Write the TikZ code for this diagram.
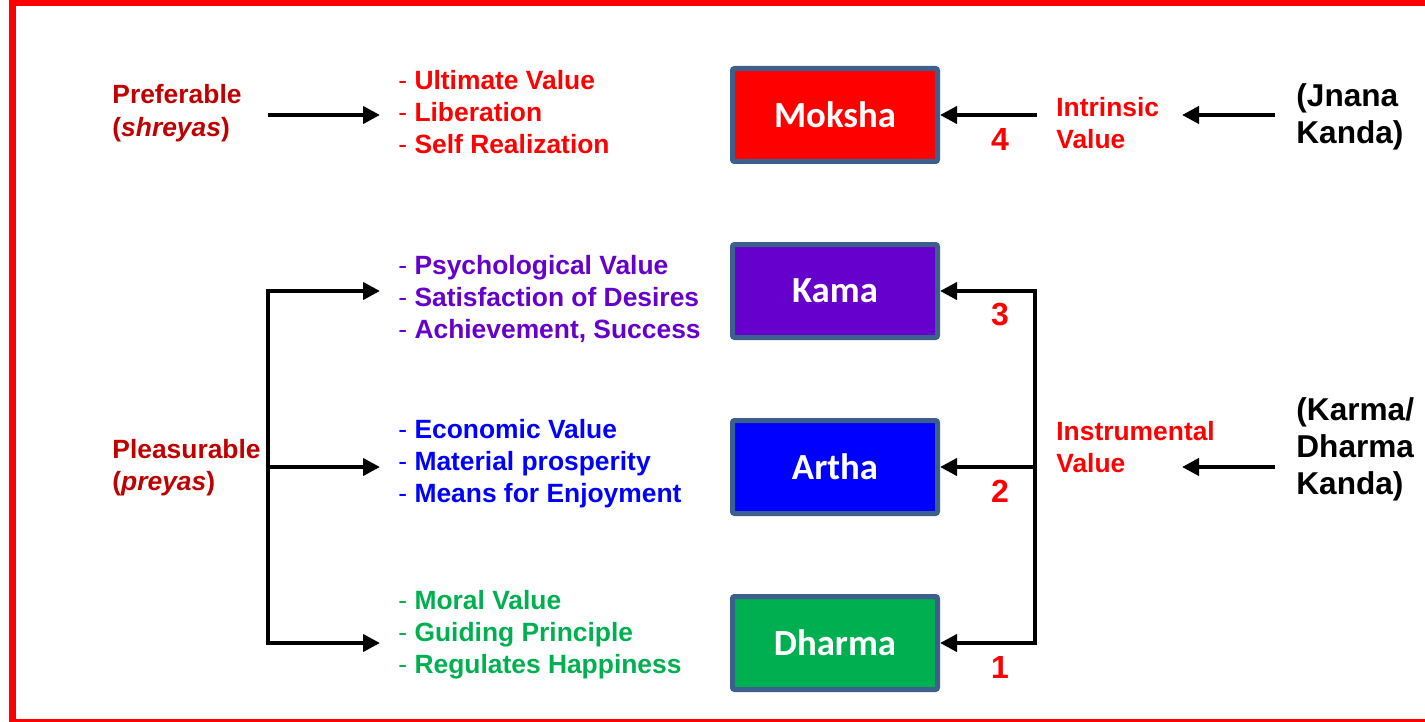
\documentclass[tikz,border=0pt]{standalone}
\usepackage{fontspec}
\setmainfont{Liberation Sans}
\newfontfamily\boxfont{Carlito}
\usetikzlibrary{arrows.meta}

\definecolor{frameRed}{HTML}{FF0000}
\definecolor{darkRed}{HTML}{C00000}
\definecolor{kamaPurple}{HTML}{6600CC}
\definecolor{arthaBlue}{HTML}{0000FF}
\definecolor{dharmaGreen}{HTML}{00B050}
\definecolor{boxEdge}{HTML}{3C5F8C}

\newcommand{\valueitem}[1]{\textmd{-} \textbf{#1}}

\tikzset{
  valuebox/.style = {draw = boxEdge, line width = 2.5pt, rounded corners = 1pt,
    minimum width = 102.5pt, minimum height = 46.5pt, text = white,
    font = \boxfont\bfseries\fontsize{18.4}{20}\selectfont},
  txt/.style = {anchor = west, inner sep = 0pt, align = left,
    font = \fontsize{13.2}{16}\selectfont},
  bigtxt/.style = {anchor = west, inner sep = 0pt, align = left,
    font = \bfseries\fontsize{15.8}{18.5}\selectfont},
  numlabel/.style = {text = frameRed, inner sep = 0pt,
    font = \bfseries\fontsize{16}{18}\selectfont},
  conn/.style = {line width = 2pt, -{Triangle[length = 8.5pt, width = 8.5pt]}},
  bus/.style = {line width = 2pt,
    {Triangle[length = 8.5pt, width = 8.5pt]}-{Triangle[length = 8.5pt, width = 8.5pt]}}
}

\begin{document}
\begin{tikzpicture}[x = 0.5pt, y = -0.5pt]
  \useasboundingbox (0, 0) rectangle (1425, 722);
  \clip (0, 0) rectangle (1425, 722);
  \draw [frameRed, line width = 3.5pt] (12.5, 2.5) rectangle (1445, 722.5);

  % the four values
  \node [valuebox, fill = frameRed] (moksha) at (835, 115) {Moksha};
  \node [valuebox, fill = kamaPurple] (kama) at (835, 291) {Kama};
  \node [valuebox, fill = arthaBlue] (artha) at (835, 467) {Artha};
  \node [valuebox, fill = dharmaGreen] (dharma) at (835, 643) {Dharma};

  \foreach \n/\y in {4/139, 3/315, 2/491, 1/667}
    \node [numlabel] (num\n) at (1000, \y) {\n};

  % lists beside the boxes
  \node [txt, text = frameRed] (mokshaList) at (398, 112)
    {\valueitem{Ultimate Value}\\ \valueitem{Liberation}\\ \valueitem{Self Realization}};
  \node [txt, text = kamaPurple] (kamaList) at (398, 299)
    {\valueitem{Psychological Value}\\ \valueitem{Satisfaction of Desires}\\ \valueitem{Achievement, Success}};
  \node [txt, text = arthaBlue] (arthaList) at (398, 464)
    {\valueitem{Economic Value}\\ \valueitem{Material prosperity}\\ \valueitem{Means for Enjoyment}};
  \node [txt, text = dharmaGreen] (dharmaList) at (398, 635)
    {\valueitem{Moral Value}\\ \valueitem{Guiding Principle}\\ \valueitem{Regulates Happiness}};

  % left labels
  \node [txt, text = darkRed, font = \bfseries\fontsize{13.2}{16.5}\selectfont] (preferable) at (112, 113)
    {Preferable\\(\textit{shreyas})};
  \node [txt, text = darkRed, font = \bfseries\fontsize{13.2}{16}\selectfont] (pleasurable) at (112, 468)
    {Pleasurable\\(\textit{preyas})};

  % right labels
  \node [txt, text = frameRed, font = \bfseries\fontsize{13.2}{16}\selectfont] (intrinsic) at (1056, 123)
    {Intrinsic\\Value};
  \node [txt, text = frameRed, font = \bfseries\fontsize{13.2}{16}\selectfont] (instrumental) at (1056, 447)
    {Instrumental\\Value};
  \node [bigtxt] (jnana) at (1296, 117) {(Jnana\\Kanda)};
  \node [bigtxt] (karma) at (1296, 449) {(Karma/\\Dharma\\Kanda)};

  % connector ends
  \coordinate (prefOut) at (268, 115);
  \coordinate (tipM) at (380, 115);
  \coordinate (tipK) at (380, 291);
  \coordinate (tipA) at (380, 467);
  \coordinate (tipD) at (380, 643);
  \coordinate (busL) at (268, 467);
  \coordinate (busR) at (1035, 467);
  \coordinate (intrOut) at (1037, 115);
  \coordinate (intrIn) at (1182, 115);
  \coordinate (jnanaOut) at (1275, 115);
  \coordinate (instrIn) at (1182, 467);
  \coordinate (karmaOut) at (1275, 467);

  \draw [conn] (prefOut) -- (tipM);
  \draw [bus] (tipK) -- (tipK -| busL) -- (tipD -| busL) -- (tipD);
  \draw [conn] (busL) -- (tipA);

  \draw [conn] (intrOut) -- (moksha.east);
  \draw [bus] (kama.east) -- (kama.east -| busR) -- (dharma.east -| busR) -- (dharma.east);
  \draw [conn] (busR) -- (artha.east);

  \draw [conn] (jnanaOut) -- (intrIn);
  \draw [conn] (karmaOut) -- (instrIn);
\end{tikzpicture}
\end{document}
